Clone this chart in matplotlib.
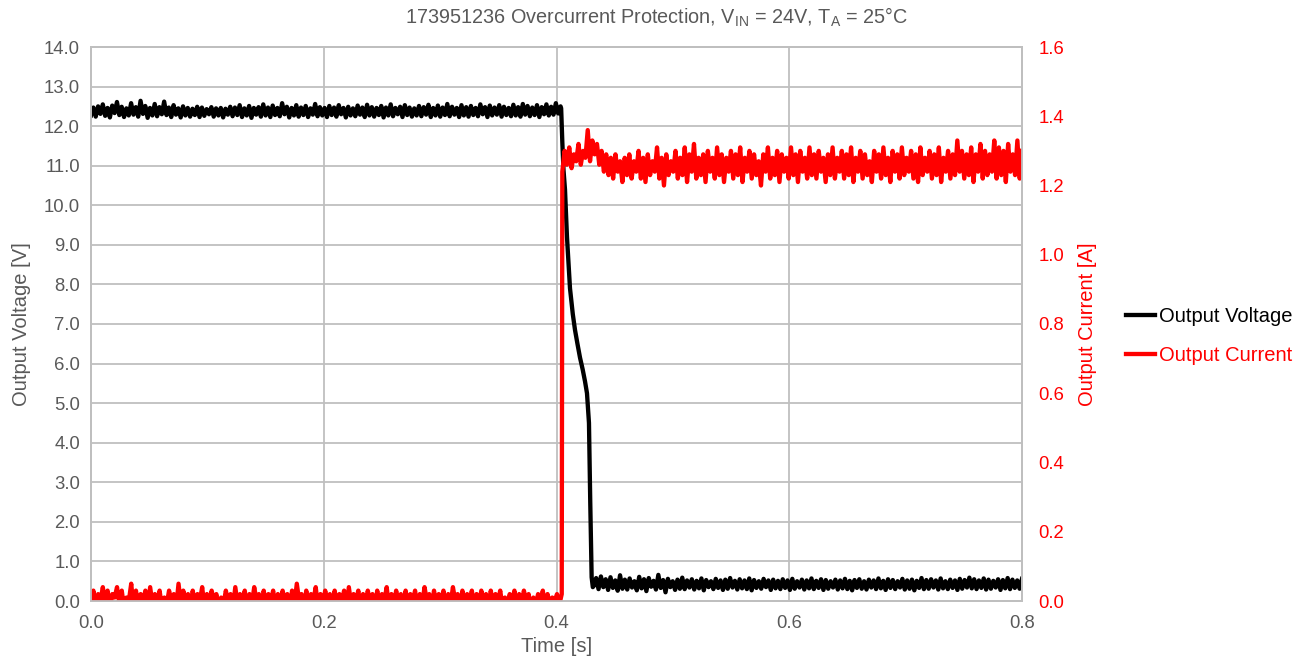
import numpy as np
import matplotlib
matplotlib.use("Agg")
import matplotlib.pyplot as plt

plt.rcParams['font.family'] = ['Liberation Sans', 'DejaVu Sans']
plt.rcParams['mathtext.fontset'] = 'custom'
plt.rcParams['mathtext.rm'] = 'Liberation Sans'
plt.rcParams['mathtext.it'] = 'Liberation Sans'

# ---------------- data ----------------
title = "173951236 Overcurrent Protection, V$_{\\mathrm{IN}}$ = 24V, T$_{\\mathrm{A}}$ = 25°C"

# Output voltage before the fault (t = 0 .. 0.4035 s)
v_pre_t = (0.0, 0.4035)
v_pre = [12.27, 12.47, 12.24, 12.50, 12.31, 12.55, 12.26, 12.46, 12.22, 12.52, 12.33, 12.61, 12.28, 12.49, 12.23, 12.45, 12.27, 12.58, 12.29, 12.48,
         12.24, 12.64, 12.31, 12.51, 12.21, 12.46, 12.27, 12.56, 12.25, 12.48, 12.30, 12.62, 12.28, 12.47, 12.23, 12.53, 12.29, 12.45, 12.22, 12.50,
         12.27, 12.46, 12.24, 12.44, 12.28, 12.49, 12.23, 12.47, 12.26, 12.43, 12.30, 12.48, 12.24, 12.45, 12.27, 12.46, 12.22, 12.44, 12.29, 12.49,
         12.25, 12.47, 12.28, 12.53, 12.23, 12.45, 12.27, 12.51, 12.21, 12.46, 12.29, 12.48, 12.24, 12.55, 12.27, 12.47, 12.23, 12.52, 12.28, 12.46,
         12.25, 12.58, 12.30, 12.49, 12.22, 12.46, 12.27, 12.53, 12.24, 12.47, 12.28, 12.51, 12.23, 12.45, 12.29, 12.56, 12.25, 12.48, 12.27, 12.46,
         12.23, 12.51, 12.28, 12.47, 12.24, 12.53, 12.30, 12.46, 12.22, 12.49, 12.27, 12.45, 12.25, 12.52, 12.29, 12.47, 12.23, 12.54, 12.27, 12.48,
         12.24, 12.46, 12.28, 12.51, 12.22, 12.47, 12.27, 12.55, 12.25, 12.46, 12.30, 12.49, 12.23, 12.53, 12.28, 12.47, 12.24, 12.45, 12.27, 12.51,
         12.25, 12.48, 12.29, 12.54, 12.23, 12.46, 12.27, 12.52, 12.24, 12.47, 12.28, 12.56, 12.25, 12.49, 12.29, 12.46, 12.23, 12.53, 12.27, 12.48,
         12.24, 12.51, 12.28, 12.46, 12.25, 12.55, 12.30, 12.48, 12.23, 12.52, 12.27, 12.47, 12.29, 12.53, 12.24, 12.49, 12.28, 12.46, 12.25, 12.54,
         12.27, 12.48, 12.24, 12.56, 12.29, 12.51, 12.25, 12.47, 12.28, 12.53, 12.23, 12.48, 12.30, 12.55, 12.27, 12.49, 12.29, 12.58, 12.32, 12.50]

# Voltage collapse during the fault
v_fall_t = [0.4040, 0.4050, 0.4060, 0.4073, 0.4090, 0.4116, 0.4140, 0.4159,
            0.4180, 0.4202, 0.4225, 0.4245, 0.4262, 0.4279, 0.4290, 0.4302, 0.4312]
v_fall = [12.45, 11.60, 10.90, 10.40, 9.20, 7.90, 7.25, 6.85,
          6.50, 6.15, 5.85, 5.55, 5.25, 4.50, 2.50, 0.60, 0.35]

# Output voltage after the fault (t = 0.432 .. 0.8 s)
v_post_t = (0.432, 0.8)
v_post = [0.38, 0.58, 0.30, 0.62, 0.35, 0.55, 0.28, 0.60, 0.33, 0.52, 0.26, 0.65, 0.31, 0.54, 0.29, 0.57, 0.34, 0.50, 0.27, 0.61,
          0.32, 0.55, 0.25, 0.58, 0.36, 0.51, 0.29, 0.66, 0.33, 0.53, 0.22, 0.56, 0.35, 0.50, 0.28, 0.54, 0.31, 0.59, 0.30, 0.52,
          0.34, 0.55, 0.29, 0.51, 0.32, 0.57, 0.27, 0.53, 0.35, 0.50, 0.30, 0.56, 0.33, 0.52, 0.28, 0.54, 0.31, 0.58, 0.34, 0.51,
          0.29, 0.55, 0.32, 0.52, 0.30, 0.57, 0.27, 0.53, 0.33, 0.50, 0.31, 0.56, 0.35, 0.52, 0.28, 0.54, 0.32, 0.51, 0.30, 0.55,
          0.33, 0.52, 0.28, 0.56, 0.31, 0.50, 0.34, 0.54, 0.29, 0.52, 0.32, 0.57, 0.30, 0.51, 0.33, 0.55, 0.28, 0.53, 0.31, 0.50,
          0.34, 0.54, 0.29, 0.52, 0.32, 0.56, 0.30, 0.51, 0.27, 0.53, 0.33, 0.55, 0.31, 0.50, 0.29, 0.54, 0.34, 0.52, 0.30, 0.57,
          0.32, 0.51, 0.28, 0.55, 0.33, 0.53, 0.30, 0.50, 0.34, 0.56, 0.29, 0.52, 0.31, 0.54, 0.27, 0.51, 0.33, 0.58, 0.30, 0.53,
          0.31, 0.55, 0.34, 0.52, 0.29, 0.57, 0.32, 0.50, 0.30, 0.54, 0.33, 0.52, 0.28, 0.56, 0.31, 0.53, 0.34, 0.59, 0.32, 0.55,
          0.30, 0.52, 0.33, 0.57, 0.29, 0.54, 0.31, 0.51, 0.34, 0.55, 0.28, 0.53, 0.32, 0.58, 0.30, 0.54, 0.33, 0.52, 0.31, 0.56]

# Output current before the fault (t = 0 .. 0.4045 s)
i_pre_t = (0.0, 0.4045)
i_pre = [-0.01, 0.03, -0.02, 0.02, 0.00, 0.04, -0.01, 0.03, -0.02, 0.02, 0.01, 0.04, -0.01, 0.03, -0.02, 0.01, 0.00, 0.05, -0.02, 0.03,
         -0.01, 0.02, 0.00, 0.03, -0.02, 0.04, -0.01, 0.02, 0.00, 0.03, -0.02, 0.01, -0.01, 0.03, 0.00, 0.02, -0.02, 0.05, -0.01, 0.03,
         0.00, 0.02, -0.02, 0.03, -0.01, 0.02, 0.00, 0.04, -0.02, 0.02, -0.01, 0.03, 0.00, 0.02, -0.02, 0.01, -0.01, 0.03, 0.00, 0.02,
         -0.02, 0.04, -0.01, 0.02, 0.00, 0.03, -0.02, 0.02, -0.01, 0.04, 0.00, 0.02, -0.02, 0.03, -0.01, 0.02, 0.00, 0.03, -0.02, 0.02,
         -0.01, 0.03, 0.00, 0.02, -0.02, 0.03, -0.01, 0.05, 0.00, 0.02, -0.02, 0.03, -0.01, 0.02, 0.00, 0.04, -0.02, 0.02, -0.01, 0.03,
         0.00, 0.02, -0.02, 0.03, -0.01, 0.02, 0.00, 0.03, -0.02, 0.04, -0.01, 0.02, 0.00, 0.03, -0.02, 0.02, -0.01, 0.03, 0.00, 0.02,
         -0.02, 0.03, -0.01, 0.02, 0.00, 0.04, -0.02, 0.02, -0.01, 0.03, 0.00, 0.02, -0.02, 0.03, -0.01, 0.02, 0.00, 0.03, -0.02, 0.02,
         -0.01, 0.04, 0.00, 0.02, -0.02, 0.03, -0.01, 0.02, 0.00, 0.03, -0.02, 0.02, -0.01, 0.04, 0.00, 0.02, -0.02, 0.03, -0.01, 0.02,
         0.00, 0.03, -0.02, 0.02, -0.01, 0.03, 0.00, 0.02, -0.02, 0.03, -0.01, 0.02, 0.00, 0.03, -0.02, 0.01, -0.01, 0.02, 0.00, 0.03,
         -0.02, 0.02, -0.01, 0.03, 0.00, 0.02, -0.02, 0.01, -0.01, 0.02, 0.00, 0.03, -0.02, 0.02, -0.01, 0.01, 0.00, 0.02, -0.01, 0.02]

# Output current after the fault (t = 0.405 .. 0.8 s)
i_post_t = (0.405, 0.8)
i_post = [1.24, 1.30, 1.26, 1.31, 1.25, 1.29, 1.27, 1.32, 1.26, 1.30, 1.28, 1.36, 1.27, 1.33, 1.29, 1.32, 1.26, 1.30, 1.24, 1.29,
          1.23, 1.28, 1.22, 1.29, 1.24, 1.27, 1.21, 1.28, 1.23, 1.29, 1.22, 1.27, 1.24, 1.30, 1.22, 1.28, 1.21, 1.29, 1.23, 1.27,
          1.24, 1.31, 1.22, 1.28, 1.20, 1.29, 1.23, 1.27, 1.24, 1.30, 1.22, 1.28, 1.23, 1.31, 1.21, 1.29, 1.24, 1.32, 1.22, 1.28,
          1.23, 1.29, 1.21, 1.30, 1.24, 1.28, 1.22, 1.31, 1.23, 1.29, 1.21, 1.28, 1.24, 1.30, 1.22, 1.29, 1.23, 1.31, 1.21, 1.28,
          1.24, 1.30, 1.22, 1.29, 1.23, 1.27, 1.20, 1.29, 1.24, 1.31, 1.22, 1.28, 1.23, 1.30, 1.21, 1.29, 1.24, 1.28, 1.22, 1.31,
          1.23, 1.29, 1.21, 1.30, 1.24, 1.28, 1.22, 1.31, 1.23, 1.29, 1.22, 1.30, 1.24, 1.28, 1.21, 1.29, 1.23, 1.31, 1.22, 1.28,
          1.24, 1.30, 1.22, 1.29, 1.23, 1.31, 1.21, 1.28, 1.24, 1.30, 1.22, 1.29, 1.23, 1.27, 1.21, 1.30, 1.24, 1.29, 1.22, 1.31,
          1.23, 1.28, 1.21, 1.30, 1.24, 1.29, 1.22, 1.31, 1.23, 1.28, 1.24, 1.30, 1.22, 1.29, 1.21, 1.31, 1.23, 1.28, 1.24, 1.30,
          1.22, 1.29, 1.23, 1.31, 1.21, 1.28, 1.24, 1.30, 1.22, 1.29, 1.23, 1.33, 1.24, 1.30, 1.22, 1.29, 1.23, 1.31, 1.21, 1.29,
          1.24, 1.32, 1.22, 1.30, 1.23, 1.29, 1.24, 1.33, 1.22, 1.31, 1.23, 1.30, 1.21, 1.32, 1.24, 1.29, 1.23, 1.33, 1.22, 1.30]

x_ticks = [0.0, 0.2, 0.4, 0.6, 0.8]
v_ticks = [float(v) for v in range(0, 15)]
i_ticks = [0.0, 0.2, 0.4, 0.6, 0.8, 1.0, 1.2, 1.4, 1.6]

# ---------------- assemble series ----------------
tv = np.concatenate([np.linspace(*v_pre_t, len(v_pre)), v_fall_t,
                     np.linspace(*v_post_t, len(v_post))])
vv = np.concatenate([v_pre, v_fall, v_post])
ti = np.concatenate([np.linspace(*i_pre_t, len(i_pre)),
                     np.linspace(*i_post_t, len(i_post))])
ii = np.concatenate([i_pre, i_post])

GRAY = '#595959'
GRID = '#BFBFBF'
RED = '#FF0000'

fig = plt.figure(figsize=(13.03, 6.72), dpi=100)
ax = fig.add_axes([91/1303, 1-601/672, (1022-91)/1303, (601-47)/672])
ax2 = ax.twinx()

lv, = ax.plot(tv, vv, color='black', lw=3.1, solid_joinstyle='round', label='Output Voltage')
li, = ax2.plot(ti, ii, color=RED, lw=3.1, solid_joinstyle='round', label='Output Current')

ax.set_xlim(0, 0.8)
ax.set_ylim(0, 14)
ax2.set_ylim(0, 1.6)
ax.set_xticks(x_ticks)
ax.set_xticklabels([f"{x:.1f}" for x in x_ticks])
ax.set_yticks(v_ticks)
ax.set_yticklabels([f"{v:.1f}" for v in v_ticks])
ax2.set_yticks(i_ticks)
ax2.set_yticklabels([f"{v:.1f}" for v in i_ticks])

ax.grid(True, color=GRID, lw=1.3)
ax.set_axisbelow(True)
for a in (ax, ax2):
    for s in a.spines.values():
        s.set_color(GRID)
        s.set_linewidth(1.3)
ax.tick_params(axis='both', length=0, labelsize=13.3, colors=GRAY, pad=8)
ax.tick_params(axis='x', pad=10)
ax2.tick_params(axis='y', length=0, labelsize=13.3, colors=RED, pad=12)

ax.set_ylabel('Output Voltage [V]', fontsize=14.5, color=GRAY, labelpad=9)
ax2.set_ylabel('Output Current [A]', fontsize=14.5, color=RED, labelpad=10)
ax.set_xlabel('Time [s]', fontsize=14.5, color=GRAY, labelpad=4)

fig.text(657/1303, 1-17/672, title, ha='center', va='center', fontsize=14.3, color=GRAY)

leg = fig.legend(handles=[lv, li], loc='center left',
                 bbox_to_anchor=(1108/1303, 1-336/672), frameon=False,
                 fontsize=14.5, handlelength=1.45, handletextpad=0.2,
                 labelspacing=1.0)
for txt, c in zip(leg.get_texts(), ['black', RED]):
    txt.set_color(c)

fig.savefig('out.png', dpi=100)
